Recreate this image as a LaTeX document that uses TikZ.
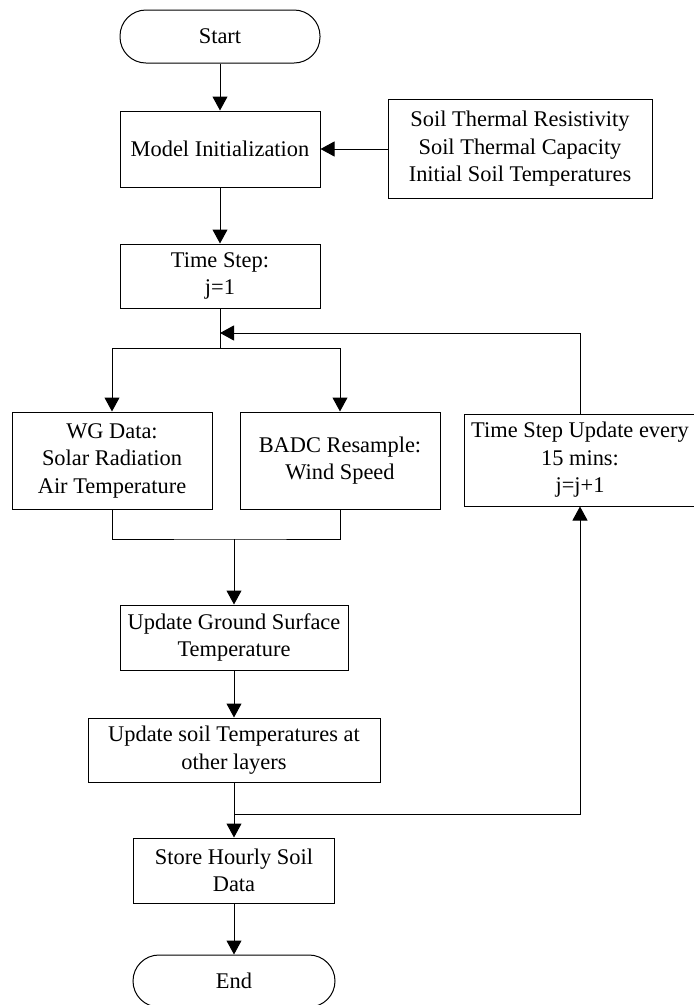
\documentclass[tikz,border=0pt]{standalone}
\usepackage{fontspec}
\setmainfont{Liberation Serif}
\usetikzlibrary{arrows.meta}
\begin{document}
\begin{tikzpicture}[x=1pt,y=-1pt,
  box/.style={draw, line width=1pt, align=center, inner sep=0pt,
    font=\fontsize{22.4}{27.5}\selectfont},
  term/.style={box, rounded corners=26pt},
  arr/.style={-{Triangle[length=14pt,width=15pt]}, line width=1pt},
  link/.style={line width=1pt}]
\useasboundingbox (0,0) rectangle (694,1005);

% main column
\node[term, minimum width=200pt, minimum height=53pt] (start) at (220,36.5) {Start};
\node[box, minimum width=200pt, minimum height=76pt] (model) at (220,149) {Model Initialization};
\node[box, minimum width=264pt, minimum height=99pt] (soil) at (520,149)
  {Soil Thermal Resistivity\\Soil Thermal Capacity\\Initial Soil Temperatures};
\node[box, minimum width=200pt, minimum height=64pt] (ts) at (220,276) {Time Step:\\j=1};

% inputs
\node[box, minimum width=200pt, minimum height=97pt] (wg) at (112,460.5)
  {WG Data:\\Solar Radiation\\Air Temperature};
\node[box, minimum width=200pt, minimum height=97pt] (badc) at (340,460.5)
  {BADC Resample:\\Wind Speed};
\node[box, minimum width=232pt, minimum height=92pt] (tsu) at (580,460)
  {Time Step Update every\\15 mins:\\j=j+1};

% updates and output
\node[box, minimum width=228pt, minimum height=65pt] (ground) at (234,637.5)
  {Update Ground Surface\\Temperature};
\node[box, minimum width=292pt, minimum height=64pt] (usoil) at (234,750)
  {Update soil Temperatures at\\other layers};
\node[box, minimum width=201pt, minimum height=65pt] (store) at (234,870.5)
  {Store Hourly Soil\\Data};
\node[term, minimum width=202pt, minimum height=52pt] (end) at (234,981) {End};

% junction points
\coordinate (split) at (220,348);
\coordinate (loopin) at (220,333);
\coordinate (join) at (234,539);
\coordinate (branch) at (234,814);

% connectors
\draw[arr] (start) -- (model);
\draw[arr] (soil) -- (model);
\draw[arr] (model) -- (ts);
\draw[link] (ts.south) -- (split);
\draw[arr] (split) -| (wg.north);
\draw[arr] (split) -| (badc.north);
\draw[arr] (tsu.north) |- (loopin);
\draw[link] (wg.south) |- (join) -| (badc.south);
\draw[arr] (join) -- (ground.north);
\draw[arr] (ground) -- (usoil);
\draw[arr] (usoil) -- (store);
\draw[arr] (branch) -| (tsu.south);
\draw[arr] (store) -- (end);
\end{tikzpicture}
\end{document}
